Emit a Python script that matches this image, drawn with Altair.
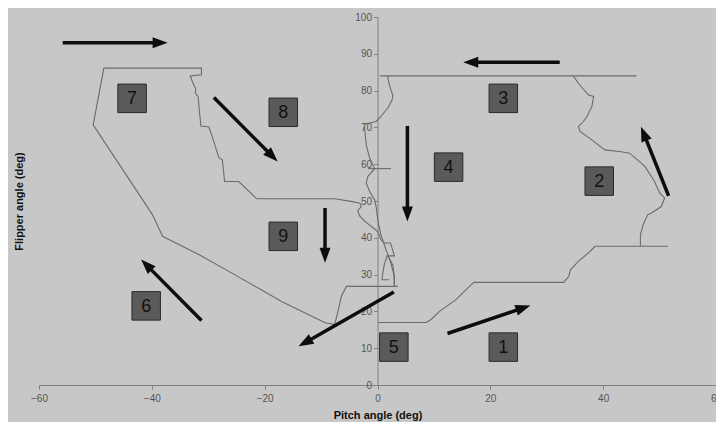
import math
import altair as alt
import pandas as pd

# ---------------- data ----------------
x_ticks = [-60, -40, -20, 0, 20, 40, 60]
y_ticks = [0, 10, 20, 30, 40, 50, 60, 70, 80, 90, 100]

left_loop = [(3.6, 26.8), (-5.5, 26.8), (-6.4, 24.1), (-7.0, 20.0), (-7.6, 16.4), (-9.3, 16.9),
             (-17.0, 22.7), (-25.8, 30.4), (-31.6, 35.4), (-38.1, 40.4), (-39.9, 46.3),
             (-50.4, 70.7), (-48.5, 86.1), (-31.2, 86.1), (-31.2, 84.3), (-33.2, 84.0),
             (-32.8, 82.4), (-32.2, 80.4), (-32.3, 79.3), (-31.8, 78.4), (-31.6, 74.8),
             (-31.3, 70.4), (-29.9, 70.1), (-29.6, 68.9), (-28.1, 61.7), (-27.5, 61.2),
             (-27.1, 55.3), (-24.6, 55.3), (-21.4, 50.6), (-7.6, 50.6), (-4.7, 49.9),
             (-3.1, 49.4), (-2.9, 48.4), (-3.5, 47.4), (-3.2, 46.0), (-2.2, 44.4),
             (-1.0, 43.0), (0.05, 41.7), (0.6, 39.5), (1.2, 38.6), (2.3, 38.6), (3.0, 35.1),
             (1.7, 35.1), (1.2, 32.7), (0.9, 30.0), (0.8, 28.6), (2.1, 28.6)]
parabola_right = [(1.8, 35.1), (2.7, 32.7), (3.0, 29.5), (3.0, 27.0)]
axis_wiggle_a = [(1.8, 84.0), (2.1, 81.5), (2.7, 78.8), (2.6, 77.5), (1.8, 75.2), (0.35, 72.5),
                 (-0.25, 71.6), (-1.4, 71.2), (-2.6, 70.9)]
axis_wiggle_b = [(-2.3, 70.2), (-2.0, 65.3), (-1.4, 61.7), (-0.5, 58.8), (-1.7, 56.7),
                 (-2.0, 54.9), (-1.4, 52.6), (-0.5, 50.3), (-0.25, 48.5), (0.05, 44.9),
                 (0.6, 40.8), (1.5, 36.8), (2.3, 33.5), (2.9, 30.0), (3.0, 26.7)]
short_bar = [(-1.7, 58.8), (2.4, 58.8)]
top_line = [(0.4, 84.0), (45.9, 84.0)]
right_boundary = [(34.7, 84.0), (35.6, 82.0), (37.4, 78.8), (38.3, 78.4), (38.0, 75.7),
                  (37.1, 72.9), (36.5, 71.6), (35.6, 70.2), (35.9, 68.9), (38.0, 66.6),
                  (40.3, 63.9), (43.2, 63.4), (44.7, 63.0), (47.4, 59.4), (49.1, 55.3),
                  (50.0, 52.2), (50.9, 50.8), (50.3, 48.5), (48.5, 46.7), (47.9, 46.3),
                  (47.1, 43.6), (46.6, 40.8), (46.6, 37.7)]
right_bar = [(38.6, 37.7), (51.5, 37.7)]
bottom_step = [(38.6, 37.7), (37.4, 35.9), (35.6, 33.6), (34.2, 31.3), (33.9, 29.5),
               (33.0, 27.9), (17.1, 27.9), (16.3, 26.8), (13.9, 23.2), (11.0, 20.0),
               (9.5, 17.8), (8.6, 17.0), (0.1, 17.0)]

arrow_x0 = [-55.8, 32.3, 51.6, 5.3, -29.0, -9.3, -31.2, 2.9, 12.4]
arrow_y0 = [93.0, 87.7, 51.4, 70.4, 78.1, 48.1, 17.5, 25.3, 14.0]
arrow_x1 = [-37.2, 15.2, 46.7, 5.3, -17.7, -9.3, -41.9, -14.0, 27.1]
arrow_y1 = [93.0, 87.7, 70.2, 44.4, 60.7, 33.2, 34.1, 10.5, 21.6]

box_labels = ["1", "2", "3", "4", "5", "6", "7", "8", "9"]
box_x = [22.3, 39.3, 22.3, 12.6, 2.9, -41.0, -43.5, -16.7, -16.7]
box_y = [10.3, 55.4, 77.9, 59.2, 10.3, 21.5, 77.9, 74.1, 40.4]

# ---------------- layout ----------------
W, H = 677, 368
XMIN, XMAX, YMIN, YMAX = -60, 60, 0, 100
sx = W / (XMAX - XMIN)
sy = H / (YMAX - YMIN)

segments = {
    "left_loop": left_loop, "parabola_right": parabola_right,
    "axis_wiggle_a": axis_wiggle_a, "axis_wiggle_b": axis_wiggle_b,
    "short_bar": short_bar, "top_line": top_line, "right_boundary": right_boundary,
    "right_bar": right_bar, "bottom_step": bottom_step,
}
rows = []
for name, pts in segments.items():
    for i, (x, y) in enumerate(pts):
        rows.append({"seg": name, "ord": i, "x": x, "y": y})
lines_df = pd.DataFrame(rows)

arows = []
for x0, y0, x1, y1 in zip(arrow_x0, arrow_y0, arrow_x1, arrow_y1):
    dx, dy = x1 - x0, y1 - y0
    L = math.hypot(dx * sx, dy * sy)
    k = 10.0 / L
    ang = math.degrees(math.atan2(dx * sx, dy * sy)) % 360
    arows.append({"x0": x0, "y0": y0, "x1": x1, "y1": y1,
                  "xe": x1 - dx * k, "ye": y1 - dy * k, "ang": ang})
arrows_df = pd.DataFrame(arows)

boxes_df = pd.DataFrame({"label": box_labels, "x": box_x, "y": box_y})

FONT = "Liberation Sans"
xs = alt.Scale(domain=[XMIN, XMAX], nice=False, zero=False)
ys = alt.Scale(domain=[YMIN, YMAX], nice=False, zero=False)
y_offset = -(0 - XMIN) / (XMAX - XMIN) * W

xaxis = alt.Axis(values=x_ticks, title="Pitch angle (deg)", grid=False, tickSize=4,
                 labelPadding=4, titleY=24, titleBaseline="top", labelFlush=False)
yaxis = alt.Axis(values=y_ticks, title="Flipper angle (deg)", grid=False, tickSize=4,
                 labelPadding=2, offset=y_offset, titleX=-(0 - XMIN) / (XMAX - XMIN) * W - 15,
                 titleBaseline="bottom")


def X(f):
    return alt.X(f, type="quantitative", scale=xs, axis=xaxis)


def Y(f):
    return alt.Y(f, type="quantitative", scale=ys, axis=yaxis)


lines = alt.Chart(lines_df).mark_line(color="#6b6b6b", strokeWidth=1.1).encode(
    x=X("x"), y=Y("y"), detail="seg:N", order="ord:Q")

shafts = alt.Chart(arrows_df).mark_rule(color="#0d0d0d", strokeWidth=3.5, strokeCap="butt").encode(
    x=X("x0"), y=Y("y0"), x2="xe:Q", y2="ye:Q")

heads = alt.Chart(arrows_df).mark_point(
    shape="M0,0 L-0.73,2 L0.73,2 Z", size=225, filled=True, fill="#0d0d0d",
    opacity=1, strokeWidth=0).encode(
    x=X("x1"), y=Y("y1"), angle=alt.Angle("ang:Q", scale=None))

boxes = alt.Chart(boxes_df).mark_point(
    shape="square", size=812, filled=True, fill="#5a5a5a", stroke="#2a2a2a",
    strokeWidth=1, opacity=1).encode(x=X("x"), y=Y("y"))

labels = alt.Chart(boxes_df).mark_text(
    font=FONT, fontSize=18, color="#111111", baseline="middle", align="center", dy=1).encode(
    x=X("x"), y=Y("y"), text="label:N")

chart = alt.layer(lines, shafts, heads, boxes, labels).properties(
    width=W, height=H, autosize="none",
    padding={"left": 31, "top": 9, "right": 0, "bottom": 37},
    background="#c7c7c7",
).configure_view(stroke=None).configure_axis(
    domainColor="#808080", tickColor="#808080", labelColor="#555555",
    labelFont=FONT, labelFontSize=10, titleFont=FONT, titleFontSize=11,
    titleFontWeight="bold", titleColor="#111111",
)

chart.save("out.html", embed_options={"renderer": "svg", "actions": False})
